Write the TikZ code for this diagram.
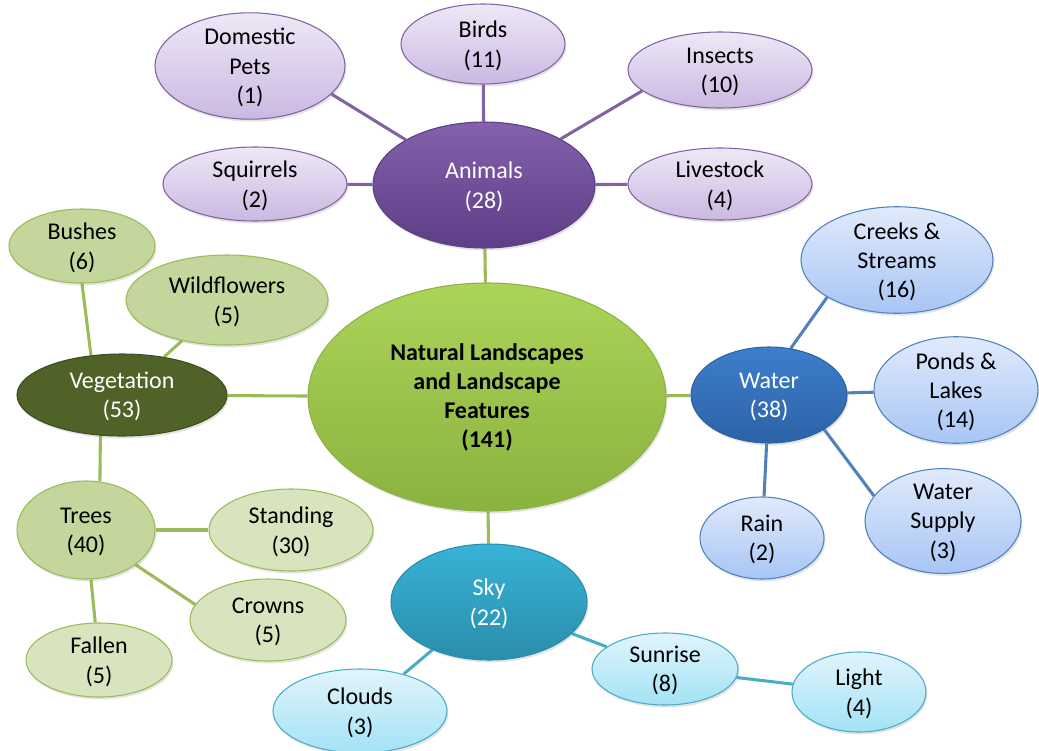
\documentclass[tikz,border=0pt]{standalone}
\usepackage{fontspec}
\setmainfont{Carlito}
\usetikzlibrary{shapes.geometric,shadows,backgrounds}

% palette
\definecolor{purpLine}{HTML}{8064A2}
\definecolor{purpTop}{HTML}{EEE8F6}
\definecolor{purpBot}{HTML}{CBB8E2}
\definecolor{purpHubTop}{HTML}{8361AC}
\definecolor{purpHubBot}{HTML}{5E3E86}
\definecolor{grnLine}{HTML}{9BBB59}
\definecolor{grnCenTop}{HTML}{ACD459}
\definecolor{grnCenBot}{HTML}{8AB23E}
\definecolor{vegFill}{HTML}{4F6228}
\definecolor{grnMid}{HTML}{C3D69B}
\definecolor{grnLight}{HTML}{D7E4BD}
\definecolor{bluLine}{HTML}{4F81BD}
\definecolor{bluTop}{HTML}{E0EAFB}
\definecolor{bluBot}{HTML}{A8C5F5}
\definecolor{bluHubTop}{HTML}{3C7FCB}
\definecolor{bluHubBot}{HTML}{2D62A6}
\definecolor{cyaLine}{HTML}{4BACC6}
\definecolor{cyaTop}{HTML}{E0F5FC}
\definecolor{cyaBot}{HTML}{A3E2F5}
\definecolor{cyaHubTop}{HTML}{38B3D6}
\definecolor{cyaHubBot}{HTML}{2A8DAC}

\tikzset{
  bubble/.style={ellipse, inner sep=0pt, align=center,
    font=\fontsize{18}{22}\selectfont,
    drop shadow={opacity=0.22, shadow xshift=1pt, shadow yshift=-1.8pt}},
  % small bubbles: ignore the depth of the last line so the text sits a bit lower
  smallbubble/.style={bubble, text depth=0pt},
  radii/.style 2 args={minimum width=#1*1.5pt, minimum height=#2*1.5pt},
  purpleleaf/.style={smallbubble, draw=purpLine, line width=0.8pt, top color=purpTop, bottom color=purpBot},
  purplehub/.style={smallbubble, draw=purpHubBot, line width=0.8pt, top color=purpHubTop, bottom color=purpHubBot, text=white},
  greenmid/.style={smallbubble, draw=grnLine, line width=0.8pt, fill=grnMid},
  greenlight/.style={smallbubble, draw=grnLine, line width=0.8pt, fill=grnLight},
  greenhub/.style={smallbubble, draw=vegFill!80!black, line width=0.8pt, fill=vegFill, text=white},
  corebubble/.style={bubble, draw=grnCenBot, line width=0.8pt, top color=grnCenTop, bottom color=grnCenBot,
    font=\fontsize{18}{21.8}\selectfont\bfseries},
  blueleaf/.style={smallbubble, draw=bluLine, line width=0.8pt, top color=bluTop, bottom color=bluBot},
  bluehub/.style={smallbubble, draw=bluHubBot, line width=0.8pt, top color=bluHubTop, bottom color=bluHubBot, text=white},
  cyanleaf/.style={smallbubble, draw=cyaLine, line width=0.8pt, top color=cyaTop, bottom color=cyaBot},
  cyanhub/.style={smallbubble, draw=cyaHubBot, line width=0.8pt, top color=cyaHubTop, bottom color=cyaHubBot, text=white},
  purpedge/.style={draw=purpLine, line width=2.3pt},
  grnedge/.style={draw=grnLine, line width=2.3pt},
  bluedge/.style={draw=bluLine, line width=2.3pt},
  cyaedge/.style={draw=cyaLine, line width=2.3pt},
}

\begin{document}
\begin{tikzpicture}[x=0.75pt, y=-0.75pt]
\useasboundingbox (0,0) rectangle (1039,750);

% core
\node[corebubble, radii={179}{114}] (core) at (487,397) {Natural Landscapes\\and Landscape\\Features\\(141)};

% animals branch
\node[purplehub, radii={111}{63}] (anim) at (484,185) {Animals\\(28)};
\node[purpleleaf, radii={95}{44}] (pets) at (250,66) {Domestic\\Pets\\(1)};
\node[purpleleaf, radii={82}{40}] (birds) at (483,44) {Birds\\(11)};
\node[purpleleaf, radii={92}{38}] (insects) at (720,70) {Insects\\(10)};
\node[purpleleaf, radii={92}{36}] (stock) at (720,184) {Livestock\\(4)};
\node[purpleleaf, radii={92}{37}] (squir) at (255,184) {Squirrels\\(2)};

% vegetation branch
\node[greenhub, radii={105}{41}] (veg) at (122,395) {Vegetation\\(53)};
\node[greenmid, radii={73}{37}] (bush) at (82,246) {Bushes\\(6)};
\node[greenmid, radii={101}{45}] (wild) at (227,300) {Wildflowers\\(5)};
\node[greenmid, radii={69}{49}] (trees) at (86,530) {Trees\\(40)};
\node[greenlight, radii={82}{41}] (stand) at (291,530) {Standing\\(30)};
\node[greenlight, radii={78}{41}] (crown) at (268,620) {Crowns\\(5)};
\node[greenlight, radii={73}{37}] (fall) at (99,660) {Fallen\\(5)};

% water branch
\node[bluehub, radii={78}{48}] (water) at (769,395) {Water\\(38)};
\node[blueleaf, radii={96}{50}] (creek) at (897,260) {Creeks \&\\Streams\\(16)};
\node[blueleaf, radii={82}{45}] (pond) at (956,390) {Ponds \&\\Lakes\\(14)};
\node[blueleaf, radii={78}{49}] (supply) at (943,521) {Water\\Supply\\(3)};
\node[blueleaf, radii={62}{41}] (rain) at (762,538) {Rain\\(2)};

% sky branch
\node[cyanhub, radii={98}{58}] (sky) at (489,602) {Sky\\(22)};
\node[cyanleaf, radii={87}{42}] (cloud) at (360,711) {Clouds\\(3)};
\node[cyanleaf, radii={73}{36}] (sunrise) at (665,669) {Sunrise\\(8)};
\node[cyanleaf, radii={67}{40}] (light) at (859,692) {Light\\(4)};

\begin{scope}[on background layer]
  \draw[grnedge] (core) -- (anim);
  \draw[grnedge] (core) -- (veg);
  \draw[grnedge] (core) -- (water);
  \draw[grnedge] (core) -- (sky);

  \draw[purpedge] (anim.150) -- (pets.-19);
  \draw[purpedge] (anim) -- (birds);
  \draw[purpedge] (anim.31) -- (insects.195);
  \draw[purpedge] (anim) -- (stock);
  \draw[purpedge] (anim) -- (squir);

  \draw[grnedge] (veg.128) -- (bush.270);
  \draw[grnedge] (veg) -- (wild);
  \draw[grnedge] (veg.-118) -- (trees.74);
  \draw[grnedge] (trees) -- (stand);
  \draw[grnedge] (trees.-35) -- (crown.168);
  \draw[grnedge] (trees) -- (fall);

  \draw[bluedge] (water.65) -- (creek.208);
  \draw[bluedge] (water) -- (pond);
  \draw[bluedge] (water.-32) -- (supply.160);
  \draw[bluedge] (water) -- (rain);

  \draw[cyaedge] (sky) -- (cloud);
  \draw[cyaedge] (sky) -- (sunrise);
  \draw[cyaedge] (sunrise) -- (light);
\end{scope}
\end{tikzpicture}
\end{document}
